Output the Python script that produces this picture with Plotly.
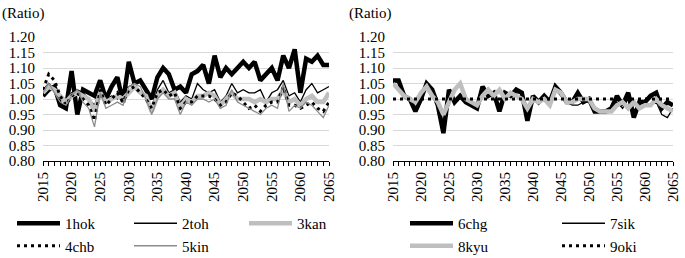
import plotly.graph_objects as go

years = list(range(2015, 2066))

hok = [1.01, 1.03, 1.04, 0.98, 0.97, 1.09, 0.95, 1.03, 1.02, 1.01,
       1.06, 1.00, 1.04, 1.07, 0.99, 1.12, 1.05, 1.06, 1.03, 1.00,
       1.07, 1.10, 1.08, 1.03, 1.04, 1.02, 1.08, 1.09, 1.11, 1.05,
       1.14, 1.07, 1.10, 1.08, 1.10, 1.12, 1.10, 1.12, 1.06, 1.08,
       1.10, 1.06, 1.14, 1.10, 1.16, 1.02, 1.13, 1.12, 1.14, 1.11, 1.11]
toh = [1.03, 1.05, 1.03, 1.00, 0.99, 1.02, 1.03, 1.02, 1.00, 0.98,
       1.03, 1.00, 1.01, 1.00, 1.03, 1.04, 1.05, 1.02, 1.01, 0.97,
       1.03, 1.06, 1.02, 1.03, 0.99, 1.01, 1.00, 1.05, 1.03, 1.02,
       1.03, 0.99, 1.01, 1.05, 1.02, 1.03, 1.02, 1.02, 1.03, 0.99,
       1.02, 1.03, 1.06, 1.01, 1.02, 0.99, 1.03, 1.05, 1.02, 1.03, 1.04]
kan = [1.02, 1.04, 1.03, 1.01, 0.99, 1.01, 1.02, 1.01, 1.00, 0.96,
       1.02, 0.99, 1.00, 1.01, 1.00, 1.02, 1.04, 1.02, 1.01, 0.96,
       1.01, 1.03, 1.01, 1.02, 0.97, 1.00, 0.99, 1.01, 1.01, 1.02,
       1.01, 0.98, 1.00, 1.02, 1.00, 1.00, 1.00, 0.99, 1.00, 0.99,
       1.00, 1.00, 1.03, 0.99, 1.00, 0.98, 1.00, 1.01, 0.99, 0.99, 1.02]
chb = [1.03, 1.08, 1.06, 1.01, 0.98, 1.01, 1.02, 1.00, 0.98, 0.93,
       1.03, 0.98, 1.00, 1.02, 0.99, 1.03, 1.04, 1.02, 1.00, 0.97,
       1.02, 1.03, 1.01, 1.02, 0.97, 0.99, 0.99, 1.01, 1.01, 1.01,
       1.00, 0.98, 0.99, 1.02, 1.01, 0.99, 0.97, 0.98, 0.96, 0.98,
       0.99, 0.99, 1.04, 0.98, 0.98, 0.97, 0.98, 0.99, 0.97, 0.96, 0.99]
kin = [1.02, 1.05, 1.02, 0.99, 0.98, 1.01, 1.03, 0.99, 0.97, 0.91,
       1.02, 0.97, 0.98, 0.99, 0.98, 1.04, 1.05, 1.04, 1.00, 0.95,
       1.00, 1.02, 1.00, 1.00, 0.95, 0.99, 0.98, 1.00, 1.00, 0.99,
       1.00, 0.97, 0.98, 1.03, 0.99, 0.98, 0.97, 0.96, 0.95, 0.97,
       0.98, 0.97, 1.05, 0.96, 0.98, 0.97, 0.99, 0.98, 0.96, 0.94, 0.98]

chg = [1.06, 1.06, 1.01, 1.00, 0.96, 1.00, 1.05, 1.03, 0.98, 0.89,
       1.03, 0.99, 1.01, 0.99, 0.98, 0.97, 1.04, 1.01, 1.02, 0.96,
       1.02, 1.01, 1.03, 1.02, 0.93, 1.01, 0.99, 1.01, 0.99, 1.04,
       1.02, 0.99, 0.99, 1.02, 0.99, 1.00, 0.96, 0.96, 0.96, 0.97,
       1.01, 0.98, 1.02, 0.94, 0.99, 0.99, 1.01, 1.02, 0.97, 0.99, 0.98]
sik = [1.05, 1.06, 1.01, 1.00, 0.97, 1.00, 1.05, 1.02, 0.98, 0.92,
       1.02, 0.99, 1.01, 0.99, 0.98, 0.97, 1.03, 1.01, 1.02, 0.97,
       1.02, 1.01, 1.02, 1.02, 0.95, 1.00, 0.99, 1.00, 0.99, 1.03,
       1.01, 0.99, 0.98, 0.98, 0.99, 0.99, 0.97, 0.96, 0.96, 0.96,
       0.99, 0.97, 1.00, 0.96, 0.98, 0.98, 0.98, 0.99, 0.95, 0.94, 0.97]
kyu = [1.05, 1.03, 1.01, 1.00, 0.99, 1.02, 1.04, 1.01, 0.99, 0.95,
       0.99, 1.03, 1.05, 1.00, 0.99, 0.98, 1.01, 1.03, 1.01, 1.03,
       1.00, 1.02, 1.01, 1.00, 0.97, 1.00, 0.99, 1.00, 0.98, 1.03,
       1.02, 0.99, 0.99, 1.00, 1.00, 1.00, 0.97, 0.96, 0.96, 0.96,
       0.98, 0.99, 0.97, 0.99, 0.97, 0.98, 0.98, 1.00, 0.98, 0.97, 0.96]
oki = [1.00] * 51

y_ticks = [0.80, 0.85, 0.90, 0.95, 1.00, 1.05, 1.10, 1.15, 1.20]

FONT = "Liberation Serif"
W, H = 685, 258
DOT = "3px,4px"

fig = go.Figure()

left = [("1hok", hok, "black", 4.5, "solid", "legend"),
        ("2toh", toh, "black", 1.3, "solid", "legend2"),
        ("3kan", kan, "#bfbfbf", 4.5, "solid", "legend3"),
        ("4chb", chb, "black", 3, DOT, "legend"),
        ("5kin", kin, "#8c8c8c", 1.3, "solid", "legend2")]
right = [("6chg", chg, "black", 4.5, "solid", "legend4"),
         ("7sik", sik, "black", 1.3, "solid", "legend5"),
         ("8kyu", kyu, "#bfbfbf", 4.5, "solid", "legend4"),
         ("9oki", oki, "black", 3, DOT, "legend5")]

for name, vals, col, w, dash, lg in left:
    fig.add_trace(go.Scatter(x=years, y=vals, name=name, mode="lines",
                             line=dict(color=col, width=w, dash=dash),
                             xaxis="x", yaxis="y", legend=lg))
for name, vals, col, w, dash, lg in right:
    fig.add_trace(go.Scatter(x=years, y=vals, name=name, mode="lines",
                             line=dict(color=col, width=w, dash=dash),
                             xaxis="x2", yaxis="y2", legend=lg))

xcommon = dict(range=[2015, 2065], tick0=2015, dtick=5, tickangle=-90,
               showgrid=False, showline=True, linecolor="black", linewidth=1,
               ticks="outside", ticklen=4, tickcolor="black",
               ticklabeloverflow="allow",
               minor=dict(dtick=1, ticks="outside", ticklen=4, tickcolor="black"),
               tickfont=dict(family=FONT, size=15, color="black"), zeroline=False)
ycommon = dict(range=[0.8, 1.2], tickvals=y_ticks, tickformat=".2f",
               showgrid=True, gridcolor="#d9d9d9", gridwidth=1,
               showline=False, zeroline=False, ticks="",
               ticklabelstandoff=7,
               tickfont=dict(family=FONT, size=15, color="black"))

ydom = [1 - 161 / H, 1 - 37 / H]
fig.update_layout(
    width=W, height=H,
    margin=dict(l=0, r=0, t=0, b=0, autoexpand=False),
    paper_bgcolor="white", plot_bgcolor="white",
    font=dict(family=FONT, size=15, color="black"),
    xaxis=dict(domain=[43 / W, 329 / W], anchor="y", **xcommon),
    yaxis=dict(domain=ydom, anchor="x", **ycommon),
    xaxis2=dict(domain=[393 / W, 673 / W], anchor="y2", **xcommon),
    yaxis2=dict(domain=ydom, anchor="x2", **ycommon),
    annotations=[
        dict(text="(Ratio)", x=0, y=1 - 14 / H, xref="paper", yref="paper",
             xanchor="left", yanchor="middle", showarrow=False,
             font=dict(family=FONT, size=15, color="black")),
        dict(text="(Ratio)", x=347 / W, y=1 - 14 / H, xref="paper", yref="paper",
             xanchor="left", yanchor="middle", showarrow=False,
             font=dict(family=FONT, size=15, color="black")),
    ],
)

leg_y = 1 - 207 / H
for lg, px in [("legend", 12), ("legend2", 129), ("legend3", 244),
               ("legend4", 405), ("legend5", 557)]:
    fig.update_layout({lg: dict(x=px / W, y=leg_y, xanchor="left", yanchor="top",
                                orientation="v", itemwidth=43, bgcolor="rgba(0,0,0,0)",
                                borderwidth=0, tracegroupgap=0,
                                font=dict(family=FONT, size=15, color="black"))})

fig.write_html("out.html", config={"displayModeBar": False},
               post_script="document.body.style.margin='0';document.body.style.overflow='hidden';")
